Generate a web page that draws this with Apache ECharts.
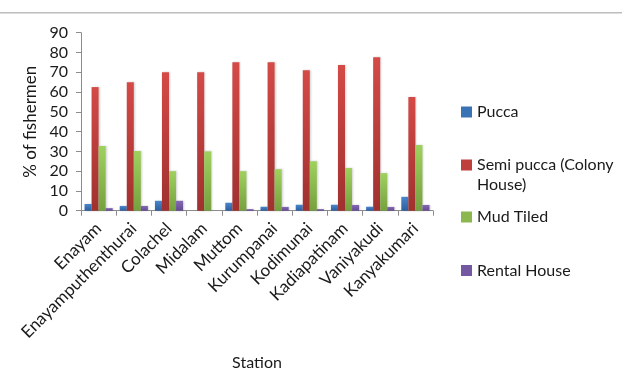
<!DOCTYPE html>
<html>
<head>
<meta charset="utf-8">
<script src="https://cdn.jsdelivr.net/npm/echarts@6/dist/echarts.min.js"></script>
<style>
  html, body { margin: 0; padding: 0; background: #fff; }
  #chart { width: 622px; height: 387px; }
</style>
</head>
<body>
<div id="chart"></div>
<script>
// Housing type of fishermen by station (% of fishermen)
const stations = ['Enayam', 'Enayamputhenthurai', 'Colachel', 'Midalam', 'Muttom',
  'Kurumpanai', 'Kodimunai', 'Kadiapatinam', 'Vaniyakudi', 'Kanyakumari'];
const pucca = [3.4, 2.4, 5, 0, 4, 2, 3, 3, 2, 7];
const semiPucca = [62.5, 65, 70, 70, 75, 75, 71, 73.7, 77.6, 57.5];
const mudTiled = [32.7, 30.2, 20, 30, 20, 21, 25, 21.6, 19, 33.2];
const rentalHouse = [1.3, 2.4, 5, 0, 0.8, 1.9, 0.8, 2.9, 1.9, 2.9];
const yTicks = [0, 10, 20, 30, 40, 50, 60, 70, 80, 90];

const FONT = 'Lato, "Open Sans", sans-serif';

function grad(top, bottom) {
  return new echarts.graphic.LinearGradient(0, 0, 0, 1, [
    { offset: 0, color: top },
    { offset: 1, color: bottom }
  ]);
}

const seriesDefs = [
  { name: 'Pucca', data: pucca, color: grad('#4a85cc', '#2c5f9e'), legendColor: '#3a72b6' },
  { name: 'Semi pucca (Colony House)', data: semiPucca, color: grad('#d44a47', '#a0312f'), legendColor: '#be3f3c' },
  { name: 'Mud Tiled', data: mudTiled, color: grad('#9fd15f', '#76a03f'), legendColor: '#8ab84f' },
  { name: 'Rental House', data: rentalHouse, color: grad('#8569b3', '#634a91'), legendColor: '#7459a2' }
];

// vertical centre of each legend marker
const legendRows = [112, 165, 217, 270.5];

const chart = echarts.init(document.getElementById('chart'), null, { renderer: 'canvas' });

chart.setOption({
  animation: false,
  backgroundColor: '#fff',
  graphic: [{
    type: 'rect',
    shape: { x: 0, y: 12, width: 622, height: 1.5 },
    style: { fill: '#bdbdbd' },
    silent: true
  }],
  legend: seriesDefs.map((s, i) => {
    const twoLine = s.name === 'Semi pucca (Colony House)';
    return {
      data: [{ name: s.name, itemStyle: { color: s.legendColor } }],
      left: 456,
      // the wrapped entry keeps a blank first line so its marker sits on the first text line
      top: twoLine ? legendRows[i] - 35 : legendRows[i] - 15,
      orient: 'vertical',
      itemWidth: 11,
      itemHeight: 11,
      icon: 'rect',
      selectedMode: false,
      formatter: (n) => twoLine ? ' \nSemi pucca (Colony\nHouse)' : n,
      textStyle: { fontFamily: FONT, fontSize: 16, color: '#1a1a1a', lineHeight: 20 }
    };
  }),
  grid: { left: 81, top: 32.7, width: 352, height: 178, containLabel: false },
  xAxis: {
    type: 'category',
    data: stations,
    name: 'Station',
    nameLocation: 'middle',
    nameGap: 144,
    nameTextStyle: { fontFamily: FONT, fontSize: 16, color: '#1a1a1a' },
    axisLine: { lineStyle: { color: '#8c8c8c', width: 1 } },
    axisTick: { show: true, alignWithLabel: false, length: 5, lineStyle: { color: '#8c8c8c' } },
    axisLabel: {
      interval: 0,
      rotate: 45,
      margin: 15,
      fontFamily: FONT,
      fontSize: 17,
      color: '#1a1a1a'
    }
  },
  yAxis: {
    type: 'value',
    min: 0,
    max: 90,
    interval: 10,
    name: '% of fishermen',
    nameLocation: 'middle',
    nameRotate: 90,
    nameGap: 42,
    nameTextStyle: { fontFamily: FONT, fontSize: 17, color: '#1a1a1a' },
    axisLine: { show: true, lineStyle: { color: '#8c8c8c', width: 1 } },
    axisTick: { show: true, length: 5, lineStyle: { color: '#8c8c8c' } },
    splitLine: { show: false },
    axisLabel: {
      margin: 13,
      fontFamily: FONT,
      fontSize: 16,
      color: '#1a1a1a',
      formatter: (v) => yTicks.includes(v) ? String(v) : ''
    }
  },
  series: seriesDefs.map(s => ({
    name: s.name,
    type: 'bar',
    data: s.data,
    barGap: '0%',
    barCategoryGap: '20%',
    itemStyle: {
      color: s.color,
      shadowColor: 'rgba(0,0,0,0.18)',
      shadowBlur: 2,
      shadowOffsetX: 1,
      shadowOffsetY: 0
    }
  }))
});
</script>
</body>
</html>
